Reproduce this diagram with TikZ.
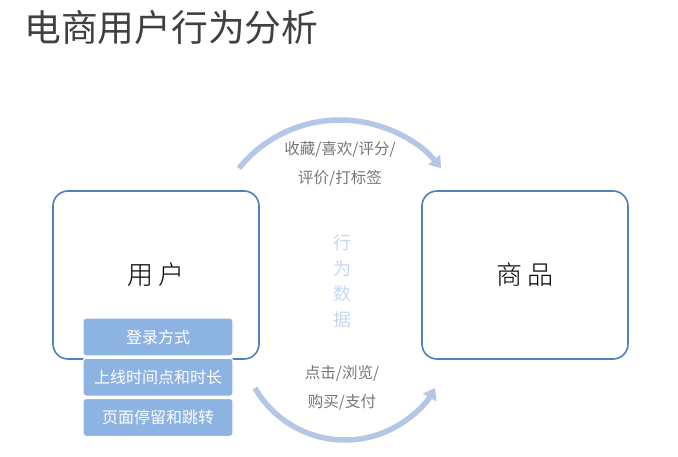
\documentclass[tikz,border=0pt]{standalone}
\usepackage{fontspec}
\usepackage{xcolor}
\usepackage{tikz}
\usetikzlibrary{arrows.meta, positioning, calc}
\newfontfamily\cjk{Noto Sans CJK SC}
\newfontfamily\cjklight{Noto Sans CJK SC Light}
\definecolor{titlegray}{RGB}{64, 64, 64}
\definecolor{boxblue}{RGB}{79, 129, 189}
\definecolor{barblue}{RGB}{141, 179, 226}
\definecolor{arcblue}{RGB}{180, 199, 231}
\definecolor{datablue}{RGB}{198, 217, 241}
\definecolor{labelgray}{RGB}{118, 118, 118}
\tikzset{
    font=\cjk,
    entity/.style={rectangle, rounded corners=15pt, draw=boxblue, line width=1.6pt, fill=white, minimum width=206pt, minimum height=168pt, font=\cjklight\fontsize{26}{30}\selectfont},
    attrbar/.style={rectangle, rounded corners=3pt, draw=white, line width=1.2pt, fill=barblue, text=white, minimum width=150pt, minimum height=38pt, inner sep=0pt, font=\cjk\fontsize{16}{18}\selectfont},
    flow/.style={-{Triangle[width=15pt, length=11pt]}, line width=5.5pt, color=arcblue},
    flowlabel/.style={font=\cjk\fontsize{15.5}{29}\selectfont, text=labelgray, align=center},
    datalabel/.style={font=\cjk\fontsize{18}{25.5}\selectfont, text=datablue, align=center}
}

\begin{document}
\begin{tikzpicture}[x=1pt, y=1pt]

    % Canvas
    \useasboundingbox (0,0) rectangle (678,456);

    % Title
    \node (title) [anchor=west, inner sep=0pt, text=titlegray, font=\cjk\fontsize{36.8}{40}\selectfont] at (24,428) {电商用户行为分析};

    % Entities
    \node (user) [entity] at (156,181) {用\hspace{6pt}户};
    \node (item) [entity] at (525,181) {商\hspace{6pt}品};

    % User attributes
    \node (login) [attrbar] at (158,119) {登录方式};
    \node (online) [attrbar, below=1pt of login] {上线时间点和时长};
    \node (stay) [attrbar, below=1pt of online] {页面停留和跳转};

    % Behaviour data
    \node (data) [datalabel] at (342,175) {行\\为\\数\\据};

    % Flows: user -> item
    \coordinate (topstart) at ($(340,206)+(141:130)$);
    \draw [flow] (topstart) arc[start angle=141, end angle=39, radius=130];
    \node (toplabel) [flowlabel] at (340,292) {收藏/喜欢/评分/\\评价/打标签};

    \coordinate (botstart) at ($(345,120)+(210:104)$);
    \draw [flow] (botstart) arc[start angle=210, end angle=330, radius=104];
    \node (botlabel) [flowlabel] at (342,68) {点击/浏览/\\购买/支付};

\end{tikzpicture}
\end{document}
